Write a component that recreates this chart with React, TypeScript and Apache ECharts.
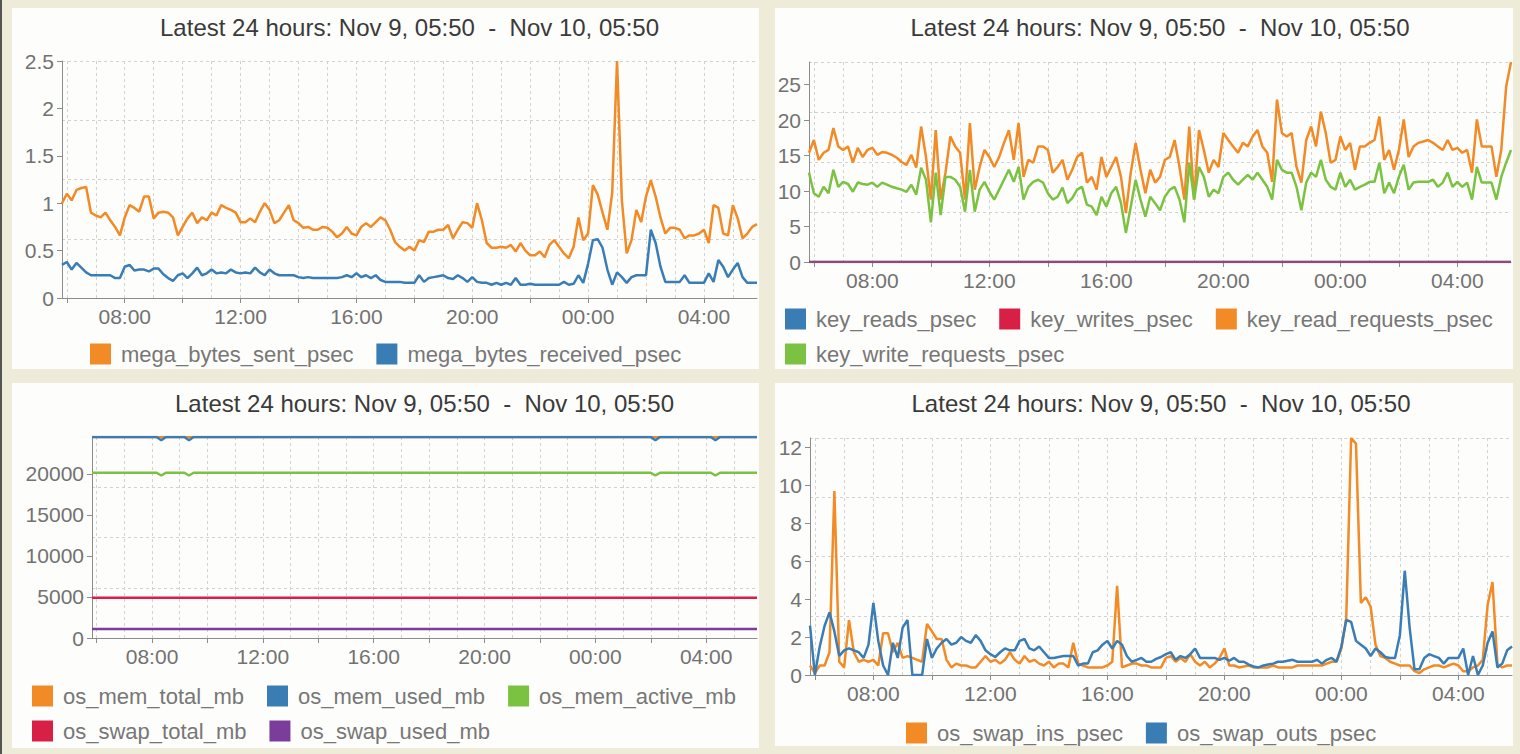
import React, { useEffect, useRef } from 'react';
import * as echarts from 'echarts';

const FONT = '"Liberation Sans", Arial, Helvetica, sans-serif';
const TITLE = 'Latest 24 hours: Nov 9, 05:50  -  Nov 10, 05:50';

// 'MM-DD HH:mm' -> UTC timestamp
const T = (s: string): number => {
  const [md, hm] = s.split(' ');
  const [mo, d] = md.split('-').map(Number);
  const [h, m] = hm.split(':').map(Number);
  return Date.UTC(2015, mo - 1, d, h, m);
};

const RANGE_START = '11-09 05:50';
const RANGE_END = '11-10 05:50';
const SAMPLE_MINUTES = 10;

// x axis ticks / labels
const xTickLabels = ['11-09 08:00', '11-09 12:00', '11-09 16:00', '11-09 20:00', '11-10 00:00', '11-10 04:00'];
const xTickMarks = [
  '11-09 06:00', '11-09 08:00', '11-09 10:00', '11-09 12:00', '11-09 14:00', '11-09 16:00',
  '11-09 18:00', '11-09 20:00', '11-09 22:00', '11-10 00:00', '11-10 02:00', '11-10 04:00',
];
const FIRST_GRID_HOUR = '11-09 06:00';
const GRID_HOURS = 24;

// y axis tick labels
const p1YTicks = [0, 0.5, 1, 1.5, 2, 2.5];
const p2YTicks = [0, 5, 10, 15, 20, 25];
const p3YTicks = [0, 5000, 10000, 15000, 20000];
const p4YTicks = [0, 2, 4, 6, 8, 10, 12];

// ---- panel 1 (10-minute samples) ----
const megaBytesSentPsec = [
  1.0, 1.1, 1.03, 1.14, 1.16, 1.17, 0.9, 0.87, 0.85, 0.9,
  0.82, 0.75, 0.66, 0.85, 0.98, 0.95, 0.91, 1.07, 1.07, 0.84,
  0.9, 0.91, 0.9, 0.85, 0.66, 0.75, 0.84, 0.9, 0.79,
  0.85, 0.82, 0.9, 0.87, 0.98, 0.95, 0.93, 0.9, 0.8, 0.8,
  0.84, 0.8, 0.91, 1.0, 0.93, 0.79, 0.82, 0.9, 0.98, 0.82,
  0.79, 0.74, 0.75, 0.72, 0.72, 0.75, 0.74, 0.7, 0.64,
  0.68, 0.75, 0.68, 0.66, 0.75, 0.79, 0.75, 0.8, 0.85, 0.82,
  0.72, 0.59, 0.54, 0.5, 0.54, 0.5, 0.61, 0.59, 0.7, 0.7,
  0.72, 0.72, 0.77, 0.63, 0.72, 0.8, 0.79, 0.74, 1.0, 0.82,
  0.58, 0.53, 0.53, 0.54, 0.53, 0.56, 0.49, 0.58, 0.5, 0.45,
  0.45, 0.49, 0.43, 0.56, 0.61, 0.54, 0.47, 0.42, 0.54, 0.85,
  0.61, 0.68, 1.19, 1.09, 0.9, 0.72, 1.11, 2.5, 1.03, 0.47,
  0.61, 0.93, 0.8, 1.07, 1.24, 1.07, 0.85, 0.68, 0.74, 0.74,
  0.72, 0.63, 0.66, 0.66, 0.68, 0.72, 0.58, 0.98, 0.95, 0.68, 0.66,
  0.98, 0.84, 0.63, 0.68, 0.75, 0.78,
];
const megaBytesReceivedPsec = [
  0.35, 0.38, 0.3, 0.37, 0.32, 0.27, 0.24, 0.24, 0.24, 0.24,
  0.24, 0.21, 0.21, 0.33, 0.35, 0.29, 0.3, 0.3, 0.28, 0.31,
  0.31, 0.25, 0.21, 0.18, 0.24, 0.26, 0.21, 0.26, 0.32, 0.24,
  0.26, 0.3, 0.26, 0.27, 0.26, 0.3, 0.27, 0.26, 0.27, 0.26,
  0.32, 0.27, 0.24, 0.3, 0.26, 0.24, 0.24, 0.24, 0.24, 0.22,
  0.21, 0.22, 0.21, 0.21, 0.21, 0.21, 0.21, 0.21, 0.22, 0.24,
  0.22, 0.26, 0.22, 0.24, 0.21, 0.24, 0.19, 0.17, 0.17, 0.17,
  0.17, 0.16, 0.16, 0.16, 0.24, 0.17, 0.21, 0.22, 0.23, 0.24,
  0.21, 0.2, 0.24, 0.21, 0.17, 0.22, 0.17, 0.16, 0.16, 0.14,
  0.16, 0.14, 0.16, 0.14, 0.21, 0.14, 0.14, 0.15, 0.14, 0.14,
  0.14, 0.14, 0.14, 0.14, 0.17, 0.14, 0.15, 0.24, 0.16, 0.36,
  0.61, 0.62, 0.53, 0.3, 0.14, 0.27, 0.22, 0.16, 0.22, 0.24,
  0.24, 0.24, 0.72, 0.58, 0.33, 0.17, 0.17, 0.17, 0.17, 0.24,
  0.16, 0.16, 0.16, 0.16, 0.26, 0.17, 0.4, 0.33, 0.22, 0.3,
  0.37, 0.22, 0.16, 0.16, 0.16,
];

// ---- panel 2 ----
const keyZeroTimes = ['11-09 05:50', '11-10 05:50'];
const keyReadsPsec = [0, 0];
const keyWritesPsec = [0, 0];
const keyReadRequestsPsec = [
  15.4, 17.2, 14.4, 15.4, 15.8, 18.9, 16.3, 15.8, 16.3, 14.0,
  16.1, 14.8, 15.8, 16.1, 15.1, 15.5, 15.4, 15.1, 14.7, 14.1,
  13.7, 15.1, 13.3, 19.1, 14.8, 8.8, 18.6, 8.8, 12.6, 17.7,
  16.3, 15.4, 8.8, 19.6, 10.2, 13.4, 15.8, 14.8, 13.4, 14.8,
  16.8, 18.6, 14.4, 19.6, 12.0, 14.4, 14.0, 16.3, 16.3, 15.8,
  12.6, 13.4, 14.4, 11.6, 13.0, 14.8, 15.4, 11.2, 12.0, 10.2,
  14.8, 12.0, 13.4, 14.8, 12.0, 6.9, 12.6, 16.8, 13.0, 9.7,
  13.0, 11.2, 12.0, 14.4, 14.8, 17.2, 13.4, 8.8, 19.1, 8.8,
  18.6, 15.8, 12.6, 14.4, 13.4, 18.2, 17.2, 16.3, 15.4, 16.8,
  16.3, 17.7, 18.6, 16.3, 15.4, 11.3, 22.9, 18.2, 17.7, 18.2,
  13.4, 11.2, 17.2, 19.1, 16.3, 21.2, 18.2, 14.0, 14.4, 17.7,
  15.8, 16.8, 13.0, 16.3, 16.3, 16.8, 17.2, 20.5, 14.4, 15.8,
  13.0, 15.8, 20.1, 14.8, 16.3, 16.8, 17.0, 17.2, 16.8, 16.3,
  15.8, 17.2, 15.8, 16.1, 15.4, 15.8, 12.6, 20.1, 16.3, 16.3,
  16.3, 12.0, 15.8, 24.7, 28.2,
];
const keyWriteRequestsPsec = [
  12.6, 9.7, 9.2, 10.6, 9.7, 13.0, 10.6, 11.3, 11.0, 9.9,
  11.2, 11.0, 10.9, 11.2, 10.6, 11.2, 10.9, 10.6, 10.4, 10.2,
  9.9, 10.9, 9.5, 13.3, 11.6, 5.6, 12.6, 6.6, 12.0, 12.0,
  11.6, 10.6, 7.1, 13.0, 7.1, 10.2, 11.3, 9.9, 8.8, 10.2,
  11.6, 13.0, 11.3, 13.4, 8.8, 10.6, 11.3, 11.6, 11.2, 9.7,
  8.8, 9.2, 10.5, 8.3, 9.0, 10.2, 10.6, 8.1, 7.8, 6.6,
  9.2, 7.8, 9.7, 10.6, 8.3, 4.1, 7.8, 11.6, 8.8, 6.4,
  9.2, 8.3, 7.3, 9.2, 10.2, 10.6, 8.8, 5.6, 14.0, 8.8,
  13.4, 12.0, 9.2, 10.2, 9.7, 12.0, 12.6, 11.6, 10.9, 11.6,
  12.3, 11.6, 12.6, 11.6, 10.6, 8.8, 14.4, 13.0, 12.6, 12.6,
  10.6, 7.3, 11.2, 12.6, 12.0, 14.4, 11.6, 10.6, 10.2, 12.6,
  10.6, 11.6, 10.2, 10.6, 10.9, 11.3, 11.3, 14.0, 9.7, 11.2,
  9.7, 12.0, 13.7, 10.2, 11.2, 11.3, 11.3, 11.3, 11.6, 10.6,
  11.2, 12.6, 10.6, 11.3, 10.6, 11.2, 8.8, 13.4, 11.2, 11.2,
  11.2, 8.8, 12.0, 14.0, 15.8,
];

// ---- panel 3 (sparse readings) ----
const memFlatTimes = ['11-09 05:50', '11-10 05:50'];
const memDipTimes = [
  '11-09 05:50', '11-09 08:10', '11-09 08:20', '11-09 08:30', '11-09 09:10', '11-09 09:20', '11-09 09:30',
  '11-10 02:00', '11-10 02:10', '11-10 02:20', '11-10 04:10', '11-10 04:20', '11-10 04:30', '11-10 05:50',
];
const osMemTotalMb = [24500, 24500];
const osMemUsedMb = [24500, 24500, 24100, 24500, 24500, 24100, 24500, 24500, 24100, 24500, 24500, 24100, 24500, 24500];
const osMemActiveMb = [20150, 20150, 19800, 20150, 20150, 19800, 20150, 20150, 19800, 20150, 20150, 19800, 20150, 20150];
const osSwapTotalMb = [4900, 4900];
const osSwapUsedMb = [1100, 1100];

// ---- panel 4 (10-minute samples) ----
const osSwapInsPsec = [
  0.5, 0.1, 0.5, 0.5, 1.2, 9.7, 0.7, 0.4, 2.9, 1.2,
  0.7, 0.8, 0.7, 0.8, 0.5, 2.2, 2.2, 1.2, 1.7, 0.9,
  1.0, 0.9, 0.8, 0.7, 2.7, 2.3, 1.9, 1.9, 0.8, 0.4,
  0.6, 0.5, 0.5, 0.4, 0.4, 0.7, 1.0, 0.7, 0.8, 0.6,
  0.8, 1.2, 0.8, 0.6, 1.0, 0.7, 0.8, 0.6, 0.5, 0.7,
  0.4, 0.6, 0.6, 0.4, 1.7, 0.6, 0.5, 0.4, 0.4, 0.4,
  0.4, 0.5, 0.7, 4.7, 0.4, 0.5, 0.6, 0.6, 0.5, 0.5,
  0.4, 0.4, 0.4, 0.9, 1.0, 0.7, 0.9, 0.7, 1.1, 0.7,
  0.5, 0.7, 0.4, 0.6, 0.9, 1.4, 0.5, 0.5, 0.4, 0.45,
  0.5, 0.4, 0.4, 0.4, 0.4, 0.5, 0.4, 0.4, 0.4, 0.4,
  0.5, 0.5, 0.5, 0.5, 0.5, 0.5, 0.6, 0.7, 0.7, 1.4,
  3.0, 12.5, 12.2, 3.8, 4.1, 3.6, 1.6, 1.0, 0.9, 0.7,
  0.6, 0.5, 0.5, 0.5, 0.2, 0.1, 0.3, 0.4, 0.5, 0.5,
  0.4, 0.5, 0.6, 0.5, 0.2, 0.2, 0.4, 0.5, 0.8, 3.7,
  4.9, 0.6, 0.4, 0.5, 0.5,
];
const osSwapOutsPsec = [
  2.6, 0.0, 1.5, 2.6, 3.3, 2.3, 1.0, 1.3, 1.4, 1.3,
  1.2, 0.9, 1.6, 3.8, 1.8, 0.5, 0.0, 1.7, 0.9, 2.5,
  2.9, 0.0, 0.0, 0.0, 1.9, 0.9, 1.4, 1.7, 1.9, 1.6,
  1.7, 2.0, 1.8, 1.7, 2.1, 1.8, 1.3, 1.1, 0.95, 1.2,
  1.4, 1.3, 1.3, 1.8, 1.9, 1.4, 1.3, 1.5, 1.2, 0.9,
  0.9, 0.95, 1.0, 1.0, 1.0, 0.5, 0.6, 0.6, 1.2, 1.3,
  1.6, 1.8, 1.4, 1.8, 1.6, 1.0, 0.7, 0.8, 0.9, 0.7,
  0.7, 0.85, 0.95, 1.1, 1.2, 0.8, 1.0, 0.9, 1.1, 1.4,
  0.9, 0.9, 0.9, 0.9, 0.8, 0.9, 0.75, 0.9, 0.7, 0.7,
  0.55, 0.45, 0.4, 0.5, 0.55, 0.6, 0.7, 0.7, 0.75, 0.8,
  0.7, 0.7, 0.7, 0.7, 0.8, 0.6, 0.8, 0.9, 0.7, 1.5,
  2.9, 2.8, 1.8, 1.6, 1.4, 1.0, 1.4, 1.2, 0.95, 0.9,
  0.9, 2.1, 5.5, 2.5, 0.3, 0.3, 0.9, 1.1, 1.0, 0.9,
  0.6, 0.9, 0.9, 0.9, 1.4, 0.0, 1.0, 0.0, 0.5, 1.7,
  2.3, 0.4, 0.6, 1.3, 1.5,
];

const C_ORANGE = '#f28a26';
const C_BLUE = '#3a7db5';
const C_GREEN = '#7cc242';
const C_RED = '#d81f45';
const C_PURPLE = '#7b3d9c';

const PANEL_BOXES = [
  { x: 12, y: 8, w: 747, h: 361 },
  { x: 775, y: 8, w: 738, h: 361 },
  { x: 12, y: 383, w: 747, h: 365 },
  { x: 775, y: 383, w: 738, h: 363 },
];

function buildOption() {
  const t0 = T(RANGE_START);
  const t1 = T(RANGE_END);
  const regular = (vals: number[]) => vals.map((v, i) => [t0 + i * SAMPLE_MINUTES * 60000, v]);
  const sparse = (times: string[], vals: number[]) => vals.map((v, i) => [T(times[i]), v]);

  const labelTimes = xTickLabels.map(T);
  const labelText = new Map<number, string>(xTickLabels.map((s) => [T(s), s.split(' ')[1]]));
  const tickTimes = xTickMarks.map(T);
  const firstHour = T(FIRST_GRID_HOUR);
  const hourTimes = Array.from({ length: GRID_HOURS }, (_, k) => firstHour + k * 3600000);

  type S = { name: string; color: string; data: number[][]; opacity?: number };
  const panels: {
    grid: { left: number; top: number; width: number; height: number };
    yTicks: number[];
    series: S[];
    legends: { names: string[]; left: number; top: number }[];
    title: { x: number; y: number };
  }[] = [
    {
      grid: { left: 62, top: 61, width: 695, height: 237 },
      yTicks: p1YTicks,
      series: [
        { name: 'mega_bytes_sent_psec', color: C_ORANGE, data: regular(megaBytesSentPsec) },
        { name: 'mega_bytes_received_psec', color: C_BLUE, data: regular(megaBytesReceivedPsec) },
      ],
      legends: [{ names: ['mega_bytes_sent_psec', 'mega_bytes_received_psec'], left: 90, top: 343 }],
      title: { x: 409.5, y: 27 },
    },
    {
      grid: { left: 809, top: 62, width: 702, height: 200 },
      yTicks: p2YTicks,
      series: [
        { name: 'key_reads_psec', color: C_BLUE, data: sparse(keyZeroTimes, keyReadsPsec) },
        { name: 'key_writes_psec', color: C_RED, data: sparse(keyZeroTimes, keyWritesPsec), opacity: 0.55 },
        { name: 'key_read_requests_psec', color: C_ORANGE, data: regular(keyReadRequestsPsec) },
        { name: 'key_write_requests_psec', color: C_GREEN, data: regular(keyWriteRequestsPsec) },
      ],
      legends: [
        { names: ['key_reads_psec', 'key_writes_psec', 'key_read_requests_psec'], left: 785, top: 308 },
        { names: ['key_write_requests_psec'], left: 785, top: 343 },
      ],
      title: { x: 1160, y: 27 },
    },
    {
      grid: { left: 92, top: 437, width: 665, height: 201 },
      yTicks: p3YTicks,
      series: [
        { name: 'os_mem_total_mb', color: C_ORANGE, data: sparse(memFlatTimes, osMemTotalMb) },
        { name: 'os_mem_used_mb', color: C_BLUE, data: sparse(memDipTimes, osMemUsedMb) },
        { name: 'os_mem_active_mb', color: C_GREEN, data: sparse(memDipTimes, osMemActiveMb) },
        { name: 'os_swap_total_mb', color: C_RED, data: sparse(memFlatTimes, osSwapTotalMb) },
        { name: 'os_swap_used_mb', color: C_PURPLE, data: sparse(memFlatTimes, osSwapUsedMb) },
      ],
      legends: [
        { names: ['os_mem_total_mb', 'os_mem_used_mb', 'os_mem_active_mb'], left: 32, top: 685 },
        { names: ['os_swap_total_mb', 'os_swap_used_mb'], left: 32, top: 720 },
      ],
      title: { x: 424.5, y: 403 },
    },
    {
      grid: { left: 810, top: 438, width: 702, height: 237 },
      yTicks: p4YTicks,
      series: [
        { name: 'os_swap_ins_psec', color: C_ORANGE, data: regular(osSwapInsPsec) },
        { name: 'os_swap_outs_psec', color: C_BLUE, data: regular(osSwapOutsPsec) },
      ],
      legends: [{ names: ['os_swap_ins_psec', 'os_swap_outs_psec'], left: 906, top: 722 }],
      title: { x: 1161, y: 403 },
    },
  ];

  const axisGray = '#8c8c8c';
  const labelGray = '#727272';
  const gridLine = { show: true, lineStyle: { color: '#d2d2d2', width: 1, type: [3, 3] as number[] } };
  const grids: any[] = [];
  const xAxes: any[] = [];
  const yAxes: any[] = [];
  const series: any[] = [];
  const legends: any[] = [];
  const graphics: any[] = [];

  panels.forEach((p, i) => {
    grids.push({ ...p.grid, show: false });
    const yMax = Math.max(...p.series.flatMap((s) => s.data.map((d) => d[1])));
    xAxes.push({
      gridIndex: i,
      type: 'value',
      min: t0,
      max: t1,
      position: 'bottom',
      axisLine: { show: true, onZero: false, lineStyle: { color: axisGray, width: 1 } },
      axisTick: { show: true, customValues: tickTimes, length: 5, lineStyle: { color: axisGray } },
      axisLabel: {
        customValues: labelTimes,
        formatter: (v: number) => labelText.get(v) ?? '',
        color: labelGray,
        fontSize: 21,
        fontFamily: FONT,
        margin: 8,
      },
      splitLine: { show: false },
    });
    xAxes.push({
      gridIndex: i,
      type: 'value',
      min: t0,
      max: t1,
      position: 'top',
      axisLine: { show: false },
      axisTick: { show: false, customValues: hourTimes },
      axisLabel: { show: false, customValues: hourTimes },
      splitLine: gridLine,
    });
    yAxes.push({
      gridIndex: i,
      type: 'value',
      min: 0,
      max: yMax,
      position: 'left',
      axisLine: { show: true, lineStyle: { color: axisGray, width: 1 } },
      axisTick: { show: true, customValues: p.yTicks, length: 5, lineStyle: { color: axisGray } },
      axisLabel: {
        customValues: p.yTicks,
        formatter: (v: number) => String(v),
        color: labelGray,
        fontSize: 21,
        fontFamily: FONT,
        margin: 8,
      },
      splitLine: { show: false },
    });
    yAxes.push({
      gridIndex: i,
      type: 'value',
      min: 0,
      max: yMax,
      interval: yMax / 4,
      position: 'right',
      axisLine: { show: false },
      axisTick: { show: false },
      axisLabel: { show: false },
      splitLine: gridLine,
    });
    p.series.forEach((s) => {
      series.push({
        type: 'line',
        name: s.name,
        xAxisIndex: 2 * i,
        yAxisIndex: 2 * i,
        data: s.data,
        showSymbol: false,
        symbol: 'none',
        silent: true,
        z: 3,
        itemStyle: { color: s.color },
        lineStyle: { color: s.color, width: 2.5, opacity: s.opacity ?? 1 },
        emphasis: { disabled: true },
      });
    });
    p.legends.forEach((l) => {
      legends.push({
        data: l.names,
        left: l.left,
        top: l.top,
        orient: 'horizontal',
        padding: 0,
        itemWidth: 21,
        itemHeight: 21,
        itemGap: 23,
        icon: 'rect',
        selectedMode: false,
        itemStyle: { borderWidth: 0 },
        textStyle: { fontSize: 22, color: '#777777', fontFamily: FONT, padding: [0, 0, 0, 5] },
      });
    });
    graphics.push({
      type: 'text',
      x: p.title.x,
      y: p.title.y,
      silent: true,
      style: {
        text: TITLE,
        fill: '#3a3a3a',
        fontSize: 24,
        fontFamily: FONT,
        textAlign: 'center',
        textVerticalAlign: 'middle',
        align: 'center',
        verticalAlign: 'middle',
      },
    });
  });

  return {
    animation: false,
    backgroundColor: 'transparent',
    grid: grids,
    xAxis: xAxes,
    yAxis: yAxes,
    series,
    legend: legends,
    graphic: { elements: graphics },
  };
}

export default function App() {
  const ref = useRef<HTMLDivElement>(null);
  useEffect(() => {
    if (!ref.current) return;
    const chart = echarts.init(ref.current, null, { renderer: 'svg' });
    chart.setOption(buildOption() as any);
    return () => chart.dispose();
  }, []);
  return (
    <div
      style={{
        position: 'fixed',
        left: 0,
        top: 0,
        width: 1520,
        height: 754,
        background: '#eeebd8',
        overflow: 'hidden',
      }}
    >
      <div style={{ position: 'absolute', left: 0, top: 0, width: 2, height: 754, background: '#555555' }} />
      {PANEL_BOXES.map((b, i) => (
        <div
          key={i}
          style={{ position: 'absolute', left: b.x, top: b.y, width: b.w, height: b.h, background: '#fdfdfb' }}
        />
      ))}
      <div ref={ref} style={{ position: 'absolute', left: 0, top: 0, width: 1520, height: 754 }} />
    </div>
  );
}
